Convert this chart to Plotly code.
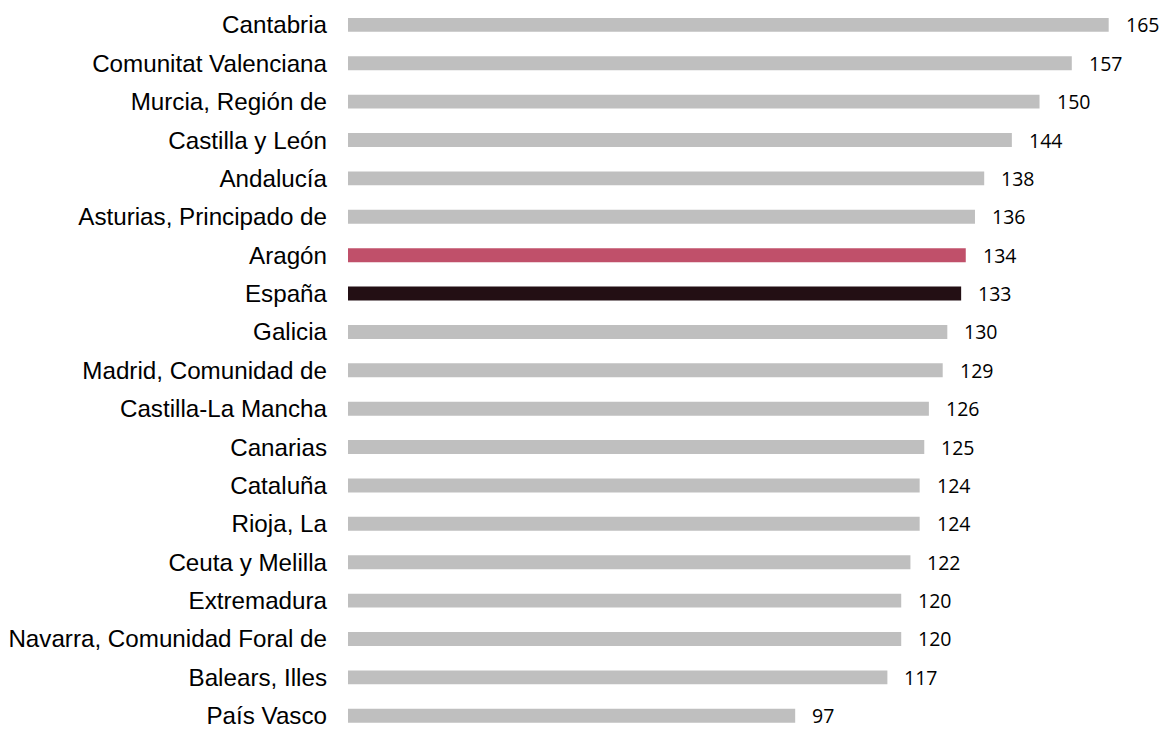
import plotly.graph_objects as go

categories = ["Cantabria", "Comunitat Valenciana", "Murcia, Región de", "Castilla y León",
              "Andalucía", "Asturias, Principado de", "Aragón", "España", "Galicia",
              "Madrid, Comunidad de", "Castilla-La Mancha", "Canarias", "Cataluña",
              "Rioja, La", "Ceuta y Melilla", "Extremadura", "Navarra, Comunidad Foral de",
              "Balears, Illes", "País Vasco"]
values = [165, 157, 150, 144, 138, 136, 134, 133, 130, 129, 126, 125, 124, 124, 122, 120, 120, 117, 97]

GREY = "#BFBFBF"
colors = ["#C0506A" if c == "Aragón" else "#230F14" if c == "España" else GREY for c in categories]

fig = go.Figure(go.Bar(
    x=values, y=categories, orientation="h",
    marker=dict(color=colors, line=dict(width=0)),
    hoverinfo="skip",
))

annotations = [
    dict(x=v, y=c, text=str(v), xref="x", yref="y", xanchor="left", yanchor="middle",
         xshift=15, showarrow=False,
         font=dict(family="Open Sans", size=19.5, color="#000000"))
    for c, v in zip(categories, values)
]

fig.update_layout(
    width=1164, height=729,
    margin=dict(l=348, r=0, t=0, b=0),
    paper_bgcolor="white", plot_bgcolor="white",
    bargap=0.637,
    showlegend=False,
    annotations=annotations,
    xaxis=dict(range=[0, 177.0], visible=False, showgrid=False, zeroline=False),
    yaxis=dict(type="category", categoryorder="array", categoryarray=categories,
               range=[18.241, -0.648], showgrid=False, zeroline=False, showline=False,
               ticks="", ticklabelstandoff=20,
               tickfont=dict(family="Liberation Sans, Arial", size=24.2, color="#000000")),
)

fig.write_html("out.html", config={"displayModeBar": False},
               post_script="document.body.style.margin='0';document.body.style.overflow='hidden';")
